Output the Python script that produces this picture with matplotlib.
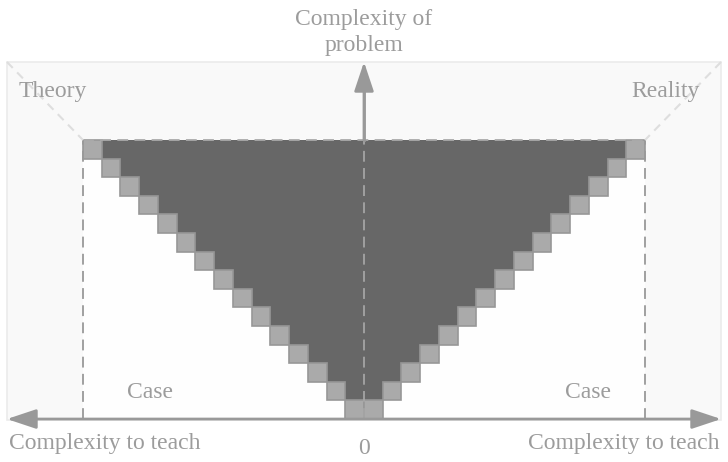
import matplotlib.pyplot as plt
from matplotlib.patches import Rectangle

plt.rcParams['font.family'] = ['Liberation Serif', 'DejaVu Serif']

# staircase rows, top row first: bottom of row, left edge cell, right edge cell
row_bottom = [14, 13, 12, 11, 10, 9, 8, 7, 6, 5, 4, 3, 2, 1, 0]
left_cell = [-15, -14, -13, -12, -11, -10, -9, -8, -7, -6, -5, -4, -3, -2, -1]
right_cell = [14, 13, 12, 11, 10, 9, 8, 7, 6, 5, 4, 3, 2, 1, 0]

depth = 15          # height of the triangle
half_width = 15     # half width of the triangle
box_x = 19.06
box_top = 19.2

labels = ["Theory", "Reality", "Case", "Case",
          "Complexity to teach", "Complexity to teach", "0", "Complexity of\nproblem"]
label_x = [-16.6, 16.1, -11.4, 11.95, -13.85, 13.85, 0.0, 0.0]
label_y = [17.6, 17.6, 1.45, 1.45, -1.3, -1.3, -1.6, 20.8]

txt_col = '#9c9c9c'
dark = '#676767'
light = '#aaaaaa'
line_col = '#999999'

fig = plt.figure(figsize=(7.28, 4.62), dpi=100)
ax = fig.add_axes([0, 0, 1, 1])
ax.set_xlim(-19.43, 19.43)
ax.set_ylim(-2.31, 22.53)
ax.axis('off')

# background panel
ax.add_patch(Rectangle((-box_x, -0.05), 2 * box_x, box_top + 0.05,
                       facecolor='#f9f9f9', edgecolor='#ebebeb', lw=1.2, zorder=0))
ax.add_patch(Rectangle((-half_width, 0), 2 * half_width, depth,
                       facecolor='#fefefe', edgecolor='none', zorder=0.5))

# dark body between the two staircases
fill_left = [c + 1 for c in left_cell]
fill_width = [r - l - 1 for l, r in zip(left_cell, right_cell)]
ax.barh(row_bottom, fill_width, height=1, left=fill_left, align='edge',
        color=dark, edgecolor='none', zorder=1)

# staircase squares
ax.bar(left_cell, [1] * len(row_bottom), width=1, bottom=row_bottom, align='edge',
       color=light, edgecolor='#979797', lw=1.2, zorder=2)
ax.bar(right_cell, [1] * len(row_bottom), width=1, bottom=row_bottom, align='edge',
       color=light, edgecolor='#979797', lw=1.2, zorder=2)

# dashed guides
dash = dict(ls=(0, (6, 3.5)), lw=1.3, zorder=3)
ax.plot([-half_width, half_width], [depth, depth], color='#aaaaaa', **dash)
ax.plot([-half_width, -half_width], [0, depth], color=line_col, **dash)
ax.plot([half_width, half_width], [0, depth], color=line_col, **dash)
ax.plot([0, 0], [0, depth], color='#a5a5a5', **dash)
ax.plot([-box_x, -half_width], [box_top, depth], color='#dedede', ls=(0, (4, 3)), lw=1.5, zorder=3)
ax.plot([box_x, half_width], [box_top, depth], color='#dedede', ls=(0, (4, 3)), lw=1.5, zorder=3)

# axes arrows
ax.annotate('', xy=(-box_x, 0), xytext=(box_x, 0),
            arrowprops=dict(arrowstyle='<|-|>,head_length=0.9,head_width=0.3',
                            color=line_col, lw=2, mutation_scale=20,
                            shrinkA=0, shrinkB=0), zorder=4)
ax.plot([0, 0], [depth, box_top - 1], color=line_col, lw=2, zorder=4)
ax.annotate('', xy=(0, box_top), xytext=(0, depth),
            arrowprops=dict(arrowstyle='-|>,head_length=0.9,head_width=0.3',
                            color=line_col, lw=2, mutation_scale=20,
                            shrinkA=0, shrinkB=0), zorder=4)

for s, x, y in zip(labels, label_x, label_y):
    ax.text(x, y, s, ha='center', va='center', fontsize=17, color=txt_col,
            linespacing=1.3, zorder=5)

fig.savefig('out.png', dpi=100)
